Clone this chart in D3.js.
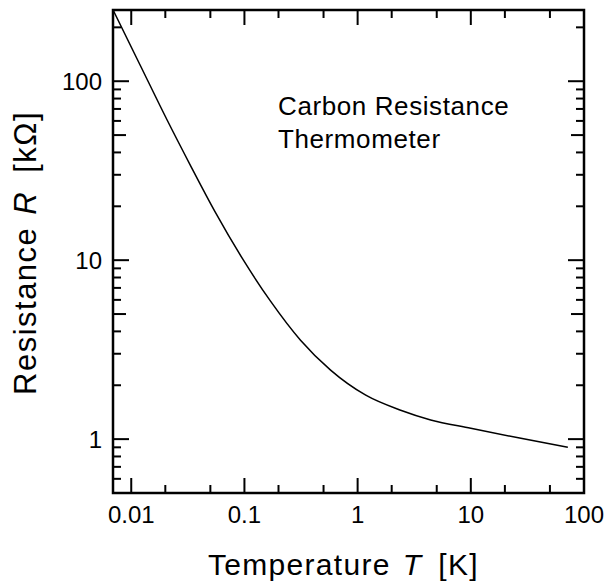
<!DOCTYPE html>
<html>
<head>
<meta charset="utf-8">
<script src="https://cdn.jsdelivr.net/npm/d3@7"></script>
<style>
  html, body { margin: 0; padding: 0; background: #fff; }
  svg { display: block; font-family: "Liberation Sans", Arial, Helvetica, sans-serif; }
</style>
</head>
<body>
<svg id="chart" width="608" height="588"></svg>
<script>
// ---- data ----
const temperatureK = [0.00693, 0.0120, 0.0208, 0.0333, 0.0554, 0.098, 0.170, 0.313, 0.577, 1.18, 2.40, 4.42, 10, 27.7, 72];
const resistanceKOhm = [249, 122.8, 60.5, 33.9, 18.5, 10, 5.90, 3.57, 2.43, 1.76, 1.45, 1.28, 1.15, 1.01, 0.90];

const xMajorTicks = [0.01, 0.1, 1, 10, 100];
const xTickLabels = ["0.01", "0.1", "1", "10", "100"];
const xMinorTicks = [0.02, 0.05, 0.2, 0.5, 2, 5, 20, 50];

const yMajorTicks = [1, 10, 100];
const yTickLabels = ["1", "10", "100"];
const yMediumTicks = [5, 50];
const yMinorTicks = [0.6, 0.7, 0.8, 0.9, 2, 3, 4, 6, 7, 8, 9, 20, 30, 40, 60, 70, 80, 90, 200];

const annotationLines = ["Carbon Resistance", "Thermometer"];

// ---- layout ----
const pL = 113, pR = 584, pT = 10, pB = 493;
const svg = d3.select("#chart");

const x = d3.scaleLog().domain([0.0069, 100]).range([pL, pR]);
const y = d3.scaleLog().domain([0.5, 250]).range([pB, pT]);

// clip
svg.append("defs").append("clipPath").attr("id", "clip")
  .append("rect").attr("x", pL).attr("y", pT).attr("width", pR - pL).attr("height", pB - pT);

// curve
const pts = temperatureK.map((t, i) => [x(t), y(resistanceKOhm[i])]);
svg.append("path")
  .attr("clip-path", "url(#clip)")
  .attr("d", d3.line().curve(d3.curveMonotoneX)(pts))
  .attr("fill", "none").attr("stroke", "#000").attr("stroke-width", 1.5);

// ticks
const tickG = svg.append("g").attr("stroke", "#000").attr("stroke-width", 2);
function xTicks(vals, len) {
  vals.forEach(v => {
    tickG.append("line").attr("x1", x(v)).attr("x2", x(v)).attr("y1", pB).attr("y2", pB - len);
    tickG.append("line").attr("x1", x(v)).attr("x2", x(v)).attr("y1", pT).attr("y2", pT + len);
  });
}
function yTicks(vals, len) {
  vals.forEach(v => {
    tickG.append("line").attr("y1", y(v)).attr("y2", y(v)).attr("x1", pL).attr("x2", pL + len);
    tickG.append("line").attr("y1", y(v)).attr("y2", y(v)).attr("x1", pR).attr("x2", pR - len);
  });
}
xTicks(xMajorTicks, 15);
xTicks(xMinorTicks, 8);
yTicks(yMajorTicks, 16);
yTicks(yMediumTicks, 13);
yTicks(yMinorTicks, 8);

// frame
svg.append("rect").attr("x", pL).attr("y", pT).attr("width", pR - pL).attr("height", pB - pT)
  .attr("fill", "none").attr("stroke", "#000").attr("stroke-width", 2.5);

// tick labels
svg.append("g").selectAll("text").data(xMajorTicks).join("text")
  .attr("x", d => x(d)).attr("y", 523)
  .attr("text-anchor", "middle").attr("font-size", 24)
  .text((d, i) => xTickLabels[i]);

svg.append("g").selectAll("text").data(yMajorTicks).join("text")
  .attr("x", 102).attr("y", d => y(d) + 9)
  .attr("text-anchor", "end").attr("font-size", 24)
  .text((d, i) => yTickLabels[i]);

// axis titles
const xt = svg.append("text").attr("x", 208).attr("y", 575)
  .attr("font-size", 30).attr("letter-spacing", 1.3);
xt.append("tspan").text("Temperature");
xt.append("tspan").attr("font-style", "italic").attr("dx", 12).text("T");
xt.append("tspan").attr("dx", 16).text("[K]");

const yt = svg.append("text").attr("transform", "translate(36, 395) rotate(-90)")
  .attr("font-size", 31).attr("letter-spacing", 1.5);
yt.append("tspan").text("Resistance");
yt.append("tspan").attr("font-style", "italic").attr("dx", 12).text("R");
yt.append("tspan").attr("dx", 18).text("[kΩ]");

// annotation
svg.append("g").selectAll("text").data(annotationLines).join("text")
  .attr("x", 278).attr("y", (d, i) => 115 + i * 33)
  .attr("font-size", 26).attr("letter-spacing", 0.6)
  .text(d => d);
</script>
</body>
</html>
